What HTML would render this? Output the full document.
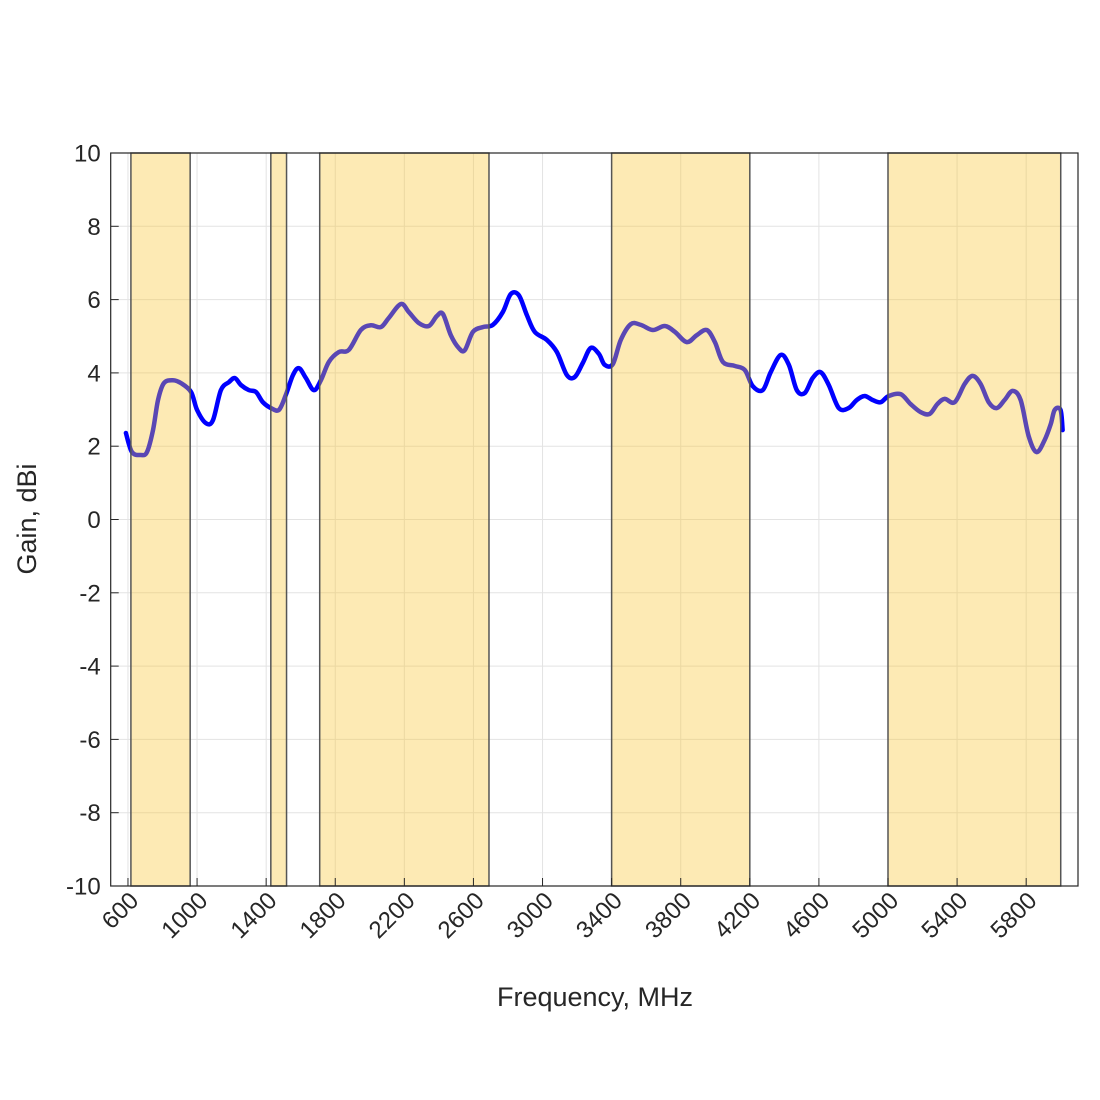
<!DOCTYPE html>
<html><head><meta charset="utf-8"><style>
html,body{margin:0;padding:0;background:#fff;}
svg{display:block;font-family:"Liberation Sans",sans-serif;}
</style></head><body>
<svg id="chart" width="1100" height="1100"></svg>
<script>
const freqs=[588,623,675,710,745,774,808,860,907,965,1000,1051,1092,1138,1185,1219,1254,1300,1341,1381,1428,1474,1514,1555,1590,1630,1676,1717,1763,1821,1879,1948,2006,2064,2110,2180,2226,2284,2342,2388,2423,2469,2515,2550,2597,2654,2712,2770,2816,2863,2909,2955,3025,3083,3141,3187,3233,3279,3326,3360,3407,3453,3511,3569,3638,3708,3766,3835,3893,3951,3998,4044,4113,4171,4217,4275,4321,4379,4426,4472,4518,4564,4610,4657,4715,4772,4819,4865,4911,4958,5004,5073,5131,5189,5241,5286,5328,5386,5444,5490,5536,5583,5629,5675,5722,5768,5814,5860,5907,5942,5965,5999,6011];
const gains=[2.36,1.84,1.76,1.84,2.44,3.26,3.72,3.8,3.72,3.48,2.99,2.63,2.71,3.53,3.75,3.86,3.67,3.53,3.48,3.2,3.04,2.99,3.4,3.94,4.13,3.86,3.53,3.8,4.3,4.57,4.63,5.17,5.3,5.25,5.5,5.88,5.66,5.36,5.28,5.55,5.61,5.03,4.68,4.62,5.12,5.25,5.31,5.66,6.15,6.12,5.58,5.12,4.9,4.57,3.94,3.89,4.27,4.68,4.52,4.22,4.24,4.9,5.33,5.31,5.17,5.28,5.12,4.84,5.03,5.17,4.84,4.3,4.19,4.08,3.64,3.53,4.02,4.49,4.22,3.53,3.45,3.86,4.02,3.67,3.04,3.04,3.26,3.37,3.26,3.2,3.37,3.42,3.15,2.93,2.88,3.15,3.29,3.2,3.7,3.92,3.7,3.2,3.04,3.26,3.51,3.26,2.28,1.84,2.17,2.6,2.99,2.99,2.44];
const bandStarts=[617,1427,1710,3400,5000];
const bandEnds=[960,1518,2690,4200,6000];
const xTicks=[600,1000,1400,1800,2200,2600,3000,3400,3800,4200,4600,5000,5400,5800];
const yTicks=[-10,-8,-6,-4,-2,0,2,4,6,8,10];

const NS="http://www.w3.org/2000/svg";
const svg=document.getElementById('chart');
const L=110.7,R=1078,T=153,B=886,X0=500,X1=6100,Y0=-10,Y1=10;
const sx=f=>L+(f-X0)/(X1-X0)*(R-L);
const sy=v=>B-(v-Y0)/(Y1-Y0)*(B-T);
function mk(tag,attrs,parent){const e=document.createElementNS(NS,tag);for(const k in attrs)e.setAttribute(k,attrs[k]);(parent||svg).appendChild(e);return e;}

const grid=mk('g',{});


xTicks.forEach(t=>{mk('line',{x1:sx(t),x2:sx(t),y1:T,y2:B,stroke:'#e3e3e3','stroke-width':1},grid);});
yTicks.forEach(t=>{mk('line',{x1:L,x2:R,y1:sy(t),y2:sy(t),stroke:'#e3e3e3','stroke-width':1},grid);});

const pts=freqs.map((f,i)=>[sx(f),sy(gains[i])]);
let d='M'+pts[0][0]+','+pts[0][1];
for(let i=0;i<pts.length-1;i++){const p0=pts[Math.max(i-1,0)],p1=pts[i],p2=pts[i+1],p3=pts[Math.min(i+2,pts.length-1)];
d+=` C${p1[0]+(p2[0]-p0[0])/6},${p1[1]+(p2[1]-p0[1])/6} ${p2[0]-(p3[0]-p1[0])/6},${p2[1]-(p3[1]-p1[1])/6} ${p2[0]},${p2[1]}`;}
const line=mk('path',{d:d,fill:'none',stroke:'#0000ff','stroke-width':4.5,'stroke-linejoin':'round','stroke-linecap':'round'});



bandStarts.forEach((s,i)=>{
 const r=mk('rect',{x:sx(s),y:T,width:sx(bandEnds[i])-sx(s),height:B-T,fill:'#f9c530','fill-opacity':0.36,stroke:'#555','stroke-width':1.5});
 
 
});

const ax=mk('rect',{x:L,y:T,width:R-L,height:B-T,fill:'none',stroke:'#262626','stroke-width':1.2});



xTicks.forEach(t=>{
 mk('line',{x1:sx(t),x2:sx(t),y1:B,y2:B-8,stroke:'#262626','stroke-width':1});
 const ax0=sx(t)+12, ay0=B+16;
 const tx=mk('text',{x:ax0,y:ay0,'font-size':24,fill:'#262626','text-anchor':'end',transform:`rotate(-45 ${ax0} ${ay0})`});
 tx.textContent=t;
 
 
});
yTicks.forEach(t=>{
 mk('line',{x1:L,x2:L+8,y1:sy(t),y2:sy(t),stroke:'#262626','stroke-width':1});
 const tx=mk('text',{x:L-10,y:sy(t)+8.5,'font-size':24,fill:'#262626','text-anchor':'end'});
 tx.textContent=t;
 
 
});
const xl=mk('text',{x:595,y:1006,'font-size':27,fill:'#262626','text-anchor':'middle'});
xl.textContent='Frequency, MHz';


const yl=mk('text',{x:36,y:519,'font-size':27,fill:'#262626','text-anchor':'middle',transform:'rotate(-90 36 519)'});
yl.textContent='Gain, dBi';


</script>
</body></html>
